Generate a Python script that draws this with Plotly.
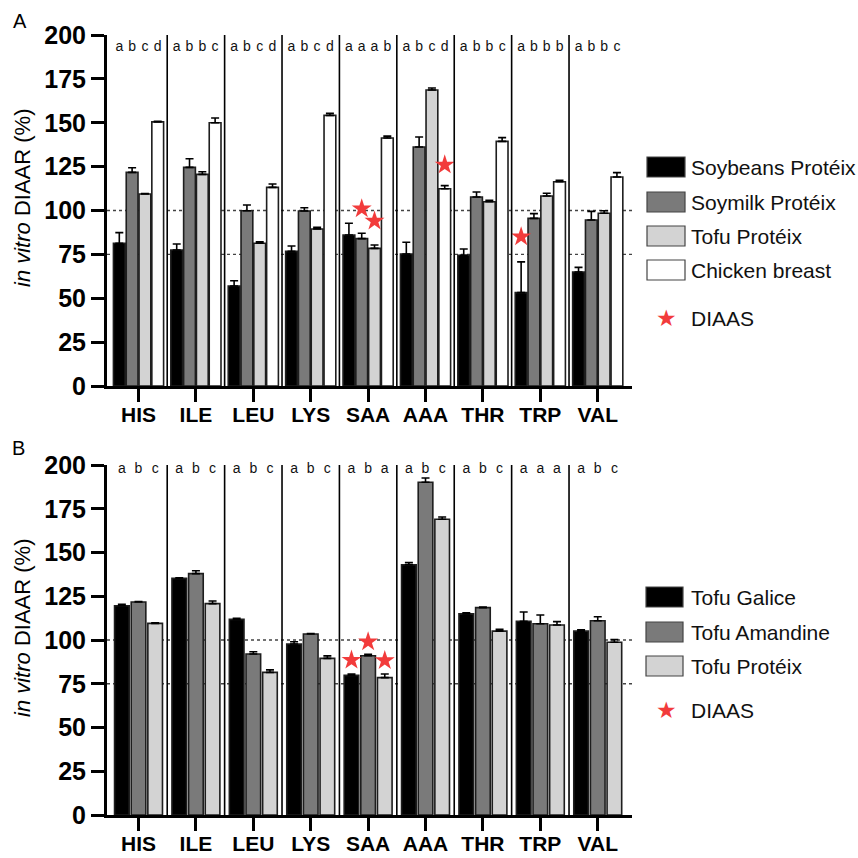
import plotly.graph_objects as go

W = H = 858
categories = ["HIS", "ILE", "LEU", "LYS", "SAA", "AAA", "THR", "TRP", "VAL"]

# ---- Panel A data ----
a_names = ["Soybeans Protéix", "Soymilk Protéix", "Tofu Protéix", "Chicken breast"]
a_soybeans = [81.3, 77.5, 57.0, 76.7, 86.0, 75.2, 74.5, 53.2, 65.0]
a_soymilk = [121.7, 124.6, 99.9, 99.7, 84.0, 136.2, 107.7, 95.5, 94.6]
a_tofu = [109.4, 120.6, 81.3, 89.5, 78.4, 168.7, 105.0, 108.3, 98.4]
a_chicken = [150.5, 150.0, 113.2, 154.2, 141.3, 112.4, 139.4, 116.4, 119.1]
a_soybeans_sd = [6.1, 3.4, 3.0, 3.1, 6.7, 6.7, 3.6, 17.5, 2.6]
a_soymilk_sd = [2.7, 4.9, 3.2, 1.9, 3.0, 5.7, 2.8, 2.7, 4.9]
a_tofu_sd = [0.3, 1.5, 0.9, 0.9, 1.9, 1.1, 0.8, 1.5, 1.5]
a_chicken_sd = [0.3, 2.7, 1.9, 1.2, 1.1, 1.8, 2.1, 0.8, 2.5]
a_letters = [
    ["a", "a", "a", "a", "a", "a", "a", "a", "a"],
    ["b", "b", "b", "b", "a", "b", "b", "b", "b"],
    ["c", "b", "c", "c", "a", "c", "b", "b", "b"],
    ["d", "c", "d", "d", "b", "d", "c", "b", "c"],
]
# DIAAS stars: (category, series index, value)
a_diaas = [("SAA", 1, 101.0), ("SAA", 2, 94.0), ("AAA", 3, 126.0), ("TRP", 0, 85.0)]

# ---- Panel B data ----
b_names = ["Tofu Galice", "Tofu Amandine", "Tofu Protéix"]
b_galice = [119.6, 135.2, 111.8, 97.7, 79.8, 143.0, 114.9, 110.7, 105.1]
b_amandine = [121.7, 137.9, 92.0, 103.4, 91.0, 190.1, 118.5, 109.3, 111.0]
b_tofu = [109.5, 120.8, 81.5, 89.5, 78.5, 169.0, 105.1, 108.6, 98.7]
b_galice_sd = [0.8, 0.4, 0.6, 1.3, 0.8, 1.2, 0.7, 5.3, 0.8]
b_amandine_sd = [0.3, 1.7, 1.3, 0.3, 0.8, 2.5, 0.3, 5.0, 2.3]
b_tofu_sd = [0.3, 1.5, 1.4, 1.4, 2.1, 1.3, 1.0, 1.9, 1.5]
b_letters = [
    ["a", "a", "a", "a", "a", "a", "a", "a", "a"],
    ["b", "b", "b", "b", "b", "b", "b", "a", "b"],
    ["c", "c", "c", "c", "a", "c", "c", "a", "c"],
]
b_diaas = [("SAA", 0, 88.5), ("SAA", 1, 99.0), ("SAA", 2, 88.3)]

yticks = [0, 25, 50, 75, 100, 125, 150, 175, 200]
thresholds = [75, 100]

# ---- styling ----
FONT = "Liberation Sans, Arial, sans-serif"
fills_a = ["#000000", "#7a7a7a", "#d3d3d3", "#ffffff"]
fills_b = ["#000000", "#7a7a7a", "#d3d3d3"]
OUTLINE = "#1e1e1e"
STAR = "#f23b3b"

def px_x(px):
    return px / W

def px_y(py):
    return 1 - py / H

xdom = [px_x(107), px_x(632)]
ydom_a = [px_y(386), px_y(35)]
ydom_b = [px_y(815), px_y(465)]
xrange_ = [-0.549, 8.597]

fig = go.Figure()

def add_panel(values, sds, letters, names, fills, diaas, xa, ya, pitch, width, letter_y):
    n = len(values)
    idx = list(range(len(categories)))
    for j in range(n):
        off = (j - (n - 1) / 2) * pitch
        xs = [i + off for i in idx]
        fig.add_trace(go.Bar(
            x=xs, y=values[j], width=width, xaxis=xa, yaxis=ya,
            marker=dict(color=fills[j], line=dict(color=OUTLINE, width=1.6)),
            error_y=dict(type="data", symmetric=False, array=sds[j],
                         arrayminus=[0] * len(sds[j]), color="#000000",
                         thickness=1.6, width=4),
            name=names[j], showlegend=False, hoverinfo="skip"))
        fig.add_trace(go.Scatter(
            x=xs, y=[letter_y] * len(idx), mode="text", text=letters[j],
            textfont=dict(family=FONT, size=14, color="#111111"),
            xaxis=xa, yaxis=ya, showlegend=False, cliponaxis=False, hoverinfo="skip"))
    sx, sy = [], []
    for cat, j, v in diaas:
        off = (j - (n - 1) / 2) * pitch
        sx.append(categories.index(cat) + off)
        sy.append(v)
    fig.add_trace(go.Scatter(
        x=sx, y=sy, mode="markers",
        marker=dict(symbol="star", size=15, color=STAR, line=dict(width=0)),
        xaxis=xa, yaxis=ya, showlegend=False, cliponaxis=False, hoverinfo="skip"))

add_panel([a_soybeans, a_soymilk, a_tofu, a_chicken],
          [a_soybeans_sd, a_soymilk_sd, a_tofu_sd, a_chicken_sd],
          a_letters, a_names, fills_a, a_diaas, "x", "y", 0.223, 0.205, 193)
add_panel([b_galice, b_amandine, b_tofu],
          [b_galice_sd, b_amandine_sd, b_tofu_sd],
          b_letters, b_names, fills_b, b_diaas, "x2", "y2", 0.29, 0.255, 197.5)

axis_common = dict(showline=True, linewidth=3, linecolor="#000000", ticks="outside",
                   ticklen=13, tickwidth=3, tickcolor="#000000", showgrid=False,
                   zeroline=False, automargin=False)
xaxis_common = dict(axis_common, range=xrange_, tickvals=list(range(len(categories))),
                    ticktext=categories, domain=xdom, ticklabelstandoff=-5,
                    tickfont=dict(family=FONT, size=21, color="#000000", weight="bold"))
yaxis_common = dict(axis_common, range=[0, 200], tickvals=yticks,
                    ticktext=[str(t) for t in yticks],
                    tickfont=dict(family=FONT, size=25, color="#000000", weight="bold"))

fig.update_layout(
    width=W, height=H, margin=dict(l=0, r=0, t=0, b=0),
    paper_bgcolor="white", plot_bgcolor="white",
    barmode="overlay", showlegend=False,
    xaxis=dict(xaxis_common, anchor="y"),
    yaxis=dict(yaxis_common, domain=ydom_a, anchor="x"),
    xaxis2=dict(xaxis_common, anchor="y2"),
    yaxis2=dict(yaxis_common, domain=ydom_b, anchor="x2"),
)

shapes = []
annotations = []
for xa, ya in [("x", "y"), ("x2", "y2")]:
    for i in range(len(categories) - 1):
        shapes.append(dict(type="line", xref=xa, yref=ya, x0=i + 0.5, x1=i + 0.5,
                           y0=0, y1=200, line=dict(color="#000000", width=1.6), layer="above"))
    for t in thresholds:
        shapes.append(dict(type="line", xref=xa + " domain", yref=ya, x0=0, x1=1,
                           y0=t, y1=t, line=dict(color="#444444", width=1.3, dash="3px,3px"),
                           layer="below"))

# y-axis titles
for cy in [198, 628]:
    annotations.append(dict(text="<i>in vitro</i> DIAAR (%)", textangle=-90,
                            xref="paper", yref="paper", x=px_x(22), y=px_y(cy),
                            showarrow=False, xanchor="center", yanchor="middle",
                            font=dict(family=FONT, size=22, color="#000000")))
# panel labels
annotations.append(dict(text="A", xref="paper", yref="paper", x=px_x(20), y=px_y(21),
                        xanchor="center", yanchor="middle",
                        showarrow=False, font=dict(family=FONT, size=20, color="#000000")))
annotations.append(dict(text="B", xref="paper", yref="paper", x=px_x(18), y=px_y(448),
                        xanchor="center", yanchor="middle",
                        showarrow=False, font=dict(family=FONT, size=20, color="#000000")))

# legends
def legend(names, fills, rows_y, star_y, sw_x0, sw_x1, text_x):
    for name, fill, cy in zip(names, fills, rows_y):
        shapes.append(dict(type="rect", xref="paper", yref="paper",
                           x0=px_x(sw_x0), x1=px_x(sw_x1), y0=px_y(cy + 10), y1=px_y(cy - 10),
                           fillcolor=fill, line=dict(color="#444444", width=1.2)))
        annotations.append(dict(text=name, xref="paper", yref="paper", x=px_x(text_x),
                                y=px_y(cy), xanchor="left", yanchor="middle", showarrow=False,
                                font=dict(family=FONT, size=21, color="#111111")))
    annotations.append(dict(text="★", xref="paper", yref="paper", x=px_x(666), y=px_y(star_y),
                            xanchor="center", yanchor="middle", showarrow=False,
                            font=dict(family="DejaVu Sans", size=23, color=STAR)))
    annotations.append(dict(text="DIAAS", xref="paper", yref="paper", x=px_x(text_x),
                            y=px_y(star_y), xanchor="left", yanchor="middle", showarrow=False,
                            font=dict(family=FONT, size=21, color="#111111")))

legend(a_names, fills_a, [167, 202, 236, 270], 318, 647, 685, 689)
legend(b_names, fills_b, [597, 632, 666], 710, 646, 683, 689)

fig.update_layout(shapes=shapes, annotations=annotations)
fig.write_html("out.html", config={"displayModeBar": False},
               post_script="document.body.style.margin='0';document.body.style.overflow='hidden';")
